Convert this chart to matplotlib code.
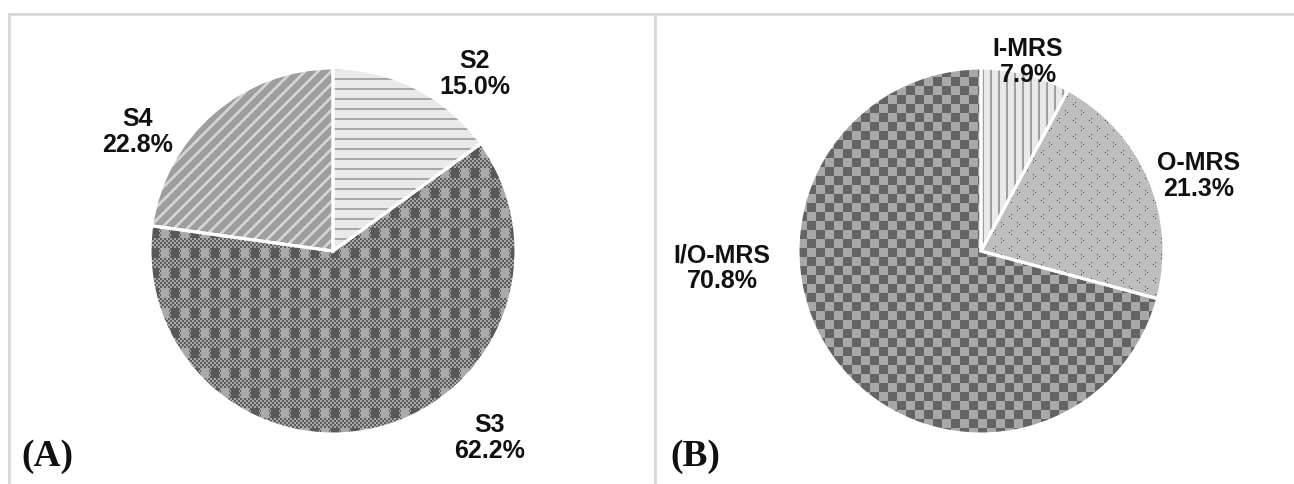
import numpy as np
import matplotlib
matplotlib.use("Agg")
import matplotlib.pyplot as plt
from matplotlib.patches import Wedge
from matplotlib.lines import Line2D

# data
labels_a = ["S2", "S3", "S4"]
shares_a = [15.0, 62.2, 22.8]
labels_b = ["I-MRS", "O-MRS", "I/O-MRS"]
shares_b = [7.9, 21.3, 70.8]

W, H = 1294, 484
R_PX = 183

fig = plt.figure(figsize=(W / 100, H / 100), dpi=100)
fig.patch.set_facecolor("white")


def texture(kind, n=2 * R_PX):
    y, x = np.mgrid[0:n, 0:n]
    t = np.zeros((n, n))
    if kind == "hlines":
        t[:] = 233
        t[(y % 10) < 2] = 168
    elif kind == "vlines":
        t[:] = 233
        t[(x % 8) < 2] = 160
    elif kind == "diag":
        t[:] = 158
        t[((x + y) % 13) < 4] = 210
    elif kind == "blocks":
        fine = np.where(((x // 2) + (y // 2)) % 2 == 0, 92, 168)
        px, py = x % 20, y % 20
        blk = fine.copy()
        blk[(px >= 1) & (px < 9)] = 88
        blk[(px >= 11) & (px < 19)] = 170
        t = np.where(py < 10, blk, fine)
    elif kind == "checker":
        t = np.where(((x // 9) + (y // 9)) % 2 == 0, 100, 168)
    elif kind == "dots":
        t[:] = 190
        cy, cx = y % 16, x % 16
        # small "<" marks
        t[((cy == 2) | (cy == 6)) & (cx == 5)] = 70
        t[(cy == 4) & (cx == 3)] = 70
        # small ">" marks
        t[((cy == 10) | (cy == 14)) & (cx == 11)] = 70
        t[(cy == 12) & (cx == 13)] = 70
    return t


def draw_pie(cx, cy, shares, names, kinds, label_pos, tag):
    ax = fig.add_axes([(cx - R_PX) / W, (H - cy - R_PX) / H, 2 * R_PX / W, 2 * R_PX / H])
    wedges, _ = ax.pie(shares, startangle=90, counterclock=False, radius=1,
                       wedgeprops=dict(linewidth=0, facecolor="#999999"))
    for w, k in zip(wedges, kinds):
        im = ax.imshow(texture(k), extent=(-1, 1, -1, 1), cmap="gray", vmin=0, vmax=255,
                       interpolation="nearest", zorder=2)
        im.set_clip_path(w)
        ax.add_patch(Wedge(w.center, w.r, w.theta1, w.theta2, facecolor="none",
                           edgecolor="white", linewidth=2.2, zorder=3))
    ax.set_xlim(-1, 1)
    ax.set_ylim(-1, 1)
    ax.set_aspect("equal")
    ax.axis("off")
    for name, v, (lx, ly) in zip(names, shares, label_pos):
        fig.text(lx / W, 1 - ly / H, f"{name}\n{v:.1f}%", ha="center", va="center",
                 fontsize=18, fontweight="bold", family="Liberation Sans",
                 color="#111111", linespacing=1.08, zorder=5)
    fig.text(tag[1] / W, 1 - tag[2] / H, tag[0], ha="left", va="center",
             fontsize=27, fontweight="bold", family="Liberation Serif", color="#111111")


draw_pie(333, 251, shares_a, labels_a, ["hlines", "blocks", "diag"],
         [(475, 74), (490, 438), (138, 132)], ("(A)", 21, 457))
draw_pie(981, 251, shares_b, labels_b, ["vlines", "dots", "checker"],
         [(1028, 62), (1199, 176), (722, 268)], ("(B)", 670, 457))

# panel frame lines
grey = "#d8d8d8"
fig.add_artist(Line2D([9 / W, 1], [1 - 14 / H, 1 - 14 / H], color=grey, linewidth=2))
fig.add_artist(Line2D([9 / W, 9 / W], [0, 1 - 14 / H], color=grey, linewidth=2))
fig.add_artist(Line2D([655 / W, 655 / W], [0, 1 - 14 / H], color=grey, linewidth=2))

fig.savefig("out.png", dpi=100, facecolor="white")
